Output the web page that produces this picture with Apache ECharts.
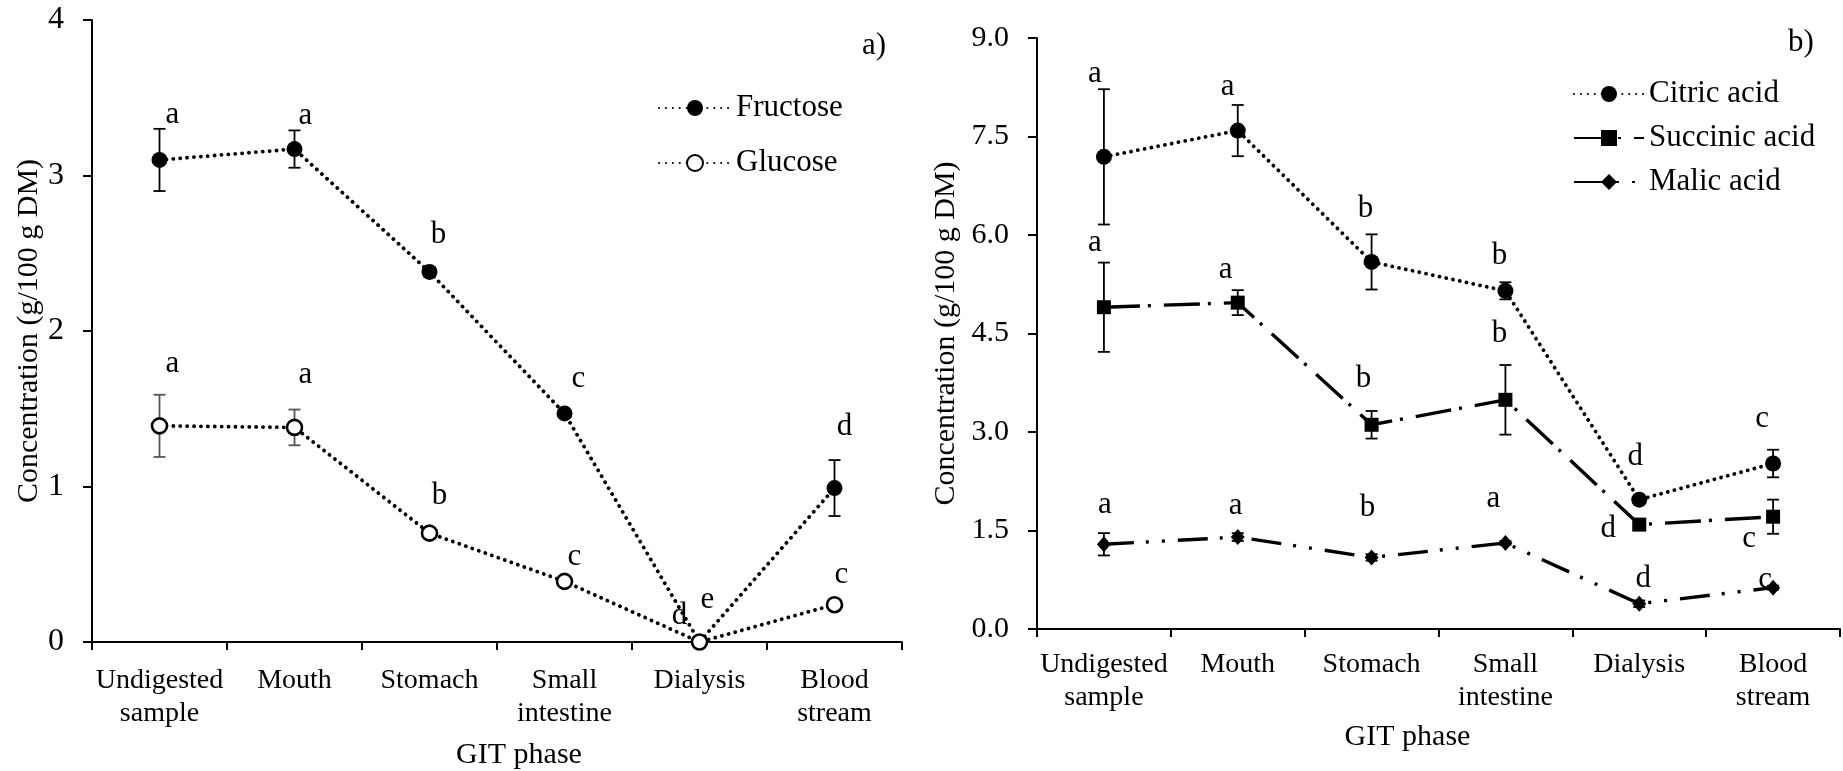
<!DOCTYPE html>
<html><head><meta charset="utf-8">
<script src="https://cdn.jsdelivr.net/npm/echarts@6/dist/echarts.min.js"></script>
<style>html,body{margin:0;padding:0;background:#fff}#c{width:1843px;height:771px}</style>
</head><body><div id="c"></div>
<script>
// ---- data ----
const categories = ['Undigested\nsample', 'Mouth', 'Stomach', 'Small\nintestine', 'Dialysis', 'Blood\nstream'];
const xAxisTitle = 'GIT phase';
const yAxisTitle = 'Concentration (g/100 g DM)';

const fructose = [3.10, 3.17, 2.38, 1.47, 0.00, 0.99];
const fructoseErr = [0.20, 0.12, 0.03, 0.02, 0.00, 0.18];
const fructoseLetters = ['a', 'a', 'b', 'c', 'e', 'd'];

const glucose = [1.39, 1.38, 0.70, 0.39, 0.00, 0.24];
const glucoseErr = [0.20, 0.115, 0.00, 0.00, 0.00, 0.00];
const glucoseLetters = ['a', 'a', 'b', 'c', 'd', 'c'];

const citric = [7.19, 7.59, 5.59, 5.15, 1.97, 2.52];
const citricErr = [1.03, 0.39, 0.42, 0.13, 0.00, 0.21];
const citricLetters = ['a', 'a', 'b', 'b', 'd', 'c'];

const succinic = [4.90, 4.97, 3.11, 3.49, 1.59, 1.71];
const succinicErr = [0.68, 0.19, 0.21, 0.53, 0.00, 0.26];
const succinicLetters = ['a', 'a', 'b', 'b', 'd', 'c'];

const malic = [1.29, 1.40, 1.09, 1.31, 0.385, 0.63];
const malicErr = [0.17, 0.06, 0.05, 0.03, 0.05, 0.03];
const malicLetters = ['a', 'a', 'b', 'a', 'd', 'c'];

const leftTicks = {min: 0, max: 4, interval: 1};
const rightTicks = {min: 0, max: 9, interval: 1.5};

// ---- styles / layout ----
const FONT = 'Liberation Serif';
const letterOffsets = {
  Fructose: [[13,-11],[11,-12],[9,-29],[14,-28],[8,-39],[10,-30]],
  Glucose:  [[13,-28],[11,-32],[10,-34],[10,-21],[-20,-23],[7,-27]],
  'Citric acid':   [[-9,-12],[-10,-15],[-6,-22],[-6,-23],[-4,-40],[-11,-28]],
  'Succinic acid': [[-9,-17],[-12,-17],[-8,-29],[-6,-28],[-31,7],[-24,42]],
  'Malic acid':    [[1,-25],[-2,-24],[-4,-43],[-12,-39],[4,-19],[-8,-3]]
};

const dotted = {width: 3.8, type: [0.1, 6.8], cap: 'round', color: '#000'};
const dashDot = {width: 3.4, type: [36, 8, 3, 13], cap: 'butt', color: '#000'};
const dashDotDot = {width: 3.4, type: [30, 12, 3, 13, 3, 13], cap: 'butt', color: '#000'};

function errRender(color) {
  return function (params, api) {
    const x = api.value(0), v = api.value(1), e = api.value(2);
    if (!(e > 0)) return null;
    const hi = api.coord([x, v + e]), lo = api.coord([x, v - e]);
    const w = 6;
    const style = {stroke: color, lineWidth: 1.8};
    return {type: 'group', children: [
      {type: 'line', shape: {x1: hi[0], y1: hi[1], x2: lo[0], y2: lo[1]}, style},
      {type: 'line', shape: {x1: hi[0] - w, y1: hi[1], x2: hi[0] + w, y2: hi[1]}, style},
      {type: 'line', shape: {x1: lo[0] - w, y1: lo[1], x2: lo[0] + w, y2: lo[1]}, style}
    ]};
  };
}

function errSeries(vals, errs, gi, color) {
  return {
    type: 'custom', xAxisIndex: gi, yAxisIndex: gi, silent: true, z: 2,
    renderItem: errRender(color),
    encode: {x: 0, y: 1},
    data: vals.map((v, i) => [i, v, errs[i]])
  };
}

function letterSeries(name, vals, errs, letters, gi) {
  const offs = letterOffsets[name];
  return {
    type: 'scatter', xAxisIndex: gi, yAxisIndex: gi, silent: true, z: 5,
    symbolSize: 0,
    data: vals.map((v, i) => ({
      value: [i, v + errs[i]],
      label: {show: true, position: 'inside', formatter: letters[i],
        offset: [offs[i][0], offs[i][1] - 3],
        fontFamily: FONT, fontSize: 31, color: '#000',
        textBorderWidth: 0, textBorderColor: 'transparent', textShadowBlur: 0, opacity: 1}
    }))
  };
}

function lineSeries(name, vals, gi, lineStyle, symbol, size, fill) {
  return {
    name, type: 'line', xAxisIndex: gi, yAxisIndex: gi, z: 3,
    data: vals, symbol, symbolSize: size, showSymbol: true,
    lineStyle,
    itemStyle: {color: fill, borderColor: '#000', borderWidth: fill === '#fff' ? 2.6 : 0},
    emphasis: {disabled: true}
  };
}

function xAxis(gi, margin, nameGap, namePad) {
  return {
    type: 'category', gridIndex: gi, data: categories, boundaryGap: true,
    axisLine: {show: true, lineStyle: {color: '#000', width: 2}},
    axisTick: {show: true, length: 8, lineStyle: {color: '#000', width: 2}},
    axisLabel: {color: '#000', fontFamily: FONT, fontSize: 28, lineHeight: 33, margin, interval: 0},
    splitLine: {show: false},
    name: xAxisTitle, nameLocation: 'middle', nameGap,
    nameTextStyle: {color: '#000', fontFamily: FONT, fontSize: 30, padding: namePad}
  };
}

function yAxis(gi, ticks, fs, fmt, nameGap) {
  return {
    type: 'value', gridIndex: gi, min: ticks.min, max: ticks.max, interval: ticks.interval,
    axisLine: {show: true, lineStyle: {color: '#000', width: 2}},
    axisTick: {show: true, inside: false, length: 9, lineStyle: {color: '#000', width: 2}},
    axisLabel: {color: '#000', fontFamily: FONT, fontSize: fs, margin: 28, formatter: fmt},
    splitLine: {show: false},
    name: yAxisTitle, nameLocation: 'middle', nameGap, nameRotate: 90,
    nameTextStyle: {color: '#000', fontFamily: FONT, fontSize: 30}
  };
}

const chart = echarts.init(document.getElementById('c'), null, {renderer: 'canvas'});
chart.setOption({
  backgroundColor: '#fff',
  animation: false,
  grid: [
    {left: 92, top: 20, width: 810, height: 622, containLabel: false, outerBoundsMode: 'none'},
    {left: 1037, top: 38, width: 803, height: 591, containLabel: false, outerBoundsMode: 'none'}
  ],
  xAxis: [xAxis(0, 22, 98, [0, 0, 0, 44]), xAxis(1, 19, 93, [0, 62, 0, 0])],
  yAxis: [
    yAxis(0, leftTicks, 32, v => String(v), 42),
    yAxis(1, rightTicks, 30, v => v.toFixed(1), 76)
  ],
  legend: [
    {orient: 'vertical', left: 653, top: 87, itemWidth: 72, itemHeight: 20, itemGap: 23,
     selectedMode: false, data: ['Fructose', 'Glucose'],
     textStyle: {color: '#000', fontFamily: FONT, fontSize: 31, lineHeight: 32}},
    {orient: 'vertical', left: 1568, top: 73, itemWidth: 70, itemHeight: 20, itemGap: 12,
     selectedMode: false, data: ['Citric acid', 'Succinic acid', 'Malic acid'],
     textStyle: {color: '#000', fontFamily: FONT, fontSize: 31, lineHeight: 32}}
  ],
  graphic: [
    {type: 'text', left: 862, top: 30, silent: true,
     style: {text: 'a)', font: '31px "Liberation Serif"', fill: '#000'}},
    {type: 'text', left: 1788, top: 27, silent: true,
     style: {text: 'b)', font: '31px "Liberation Serif"', fill: '#000'}}
  ],
  series: [
    errSeries(fructose, fructoseErr, 0, '#000'),
    errSeries(glucose, glucoseErr, 0, '#555'),
    lineSeries('Fructose', fructose, 0, dotted, 'circle', 16, '#000'),
    lineSeries('Glucose', glucose, 0, dotted, 'circle', 15, '#fff'),
    letterSeries('Fructose', fructose, fructoseErr, fructoseLetters, 0),
    letterSeries('Glucose', glucose, glucoseErr, glucoseLetters, 0),

    errSeries(citric, citricErr, 1, '#000'),
    errSeries(succinic, succinicErr, 1, '#000'),
    errSeries(malic, malicErr, 1, '#000'),
    lineSeries('Citric acid', citric, 1, dotted, 'circle', 16, '#000'),
    lineSeries('Succinic acid', succinic, 1, dashDot, 'rect', 14, '#000'),
    lineSeries('Malic acid', malic, 1, dashDotDot, 'diamond', [14, 16], '#000'),
    letterSeries('Citric acid', citric, citricErr, citricLetters, 1),
    letterSeries('Succinic acid', succinic, succinicErr, succinicLetters, 1),
    letterSeries('Malic acid', malic, malicErr, malicLetters, 1)
  ]
});
</script>
</body></html>
